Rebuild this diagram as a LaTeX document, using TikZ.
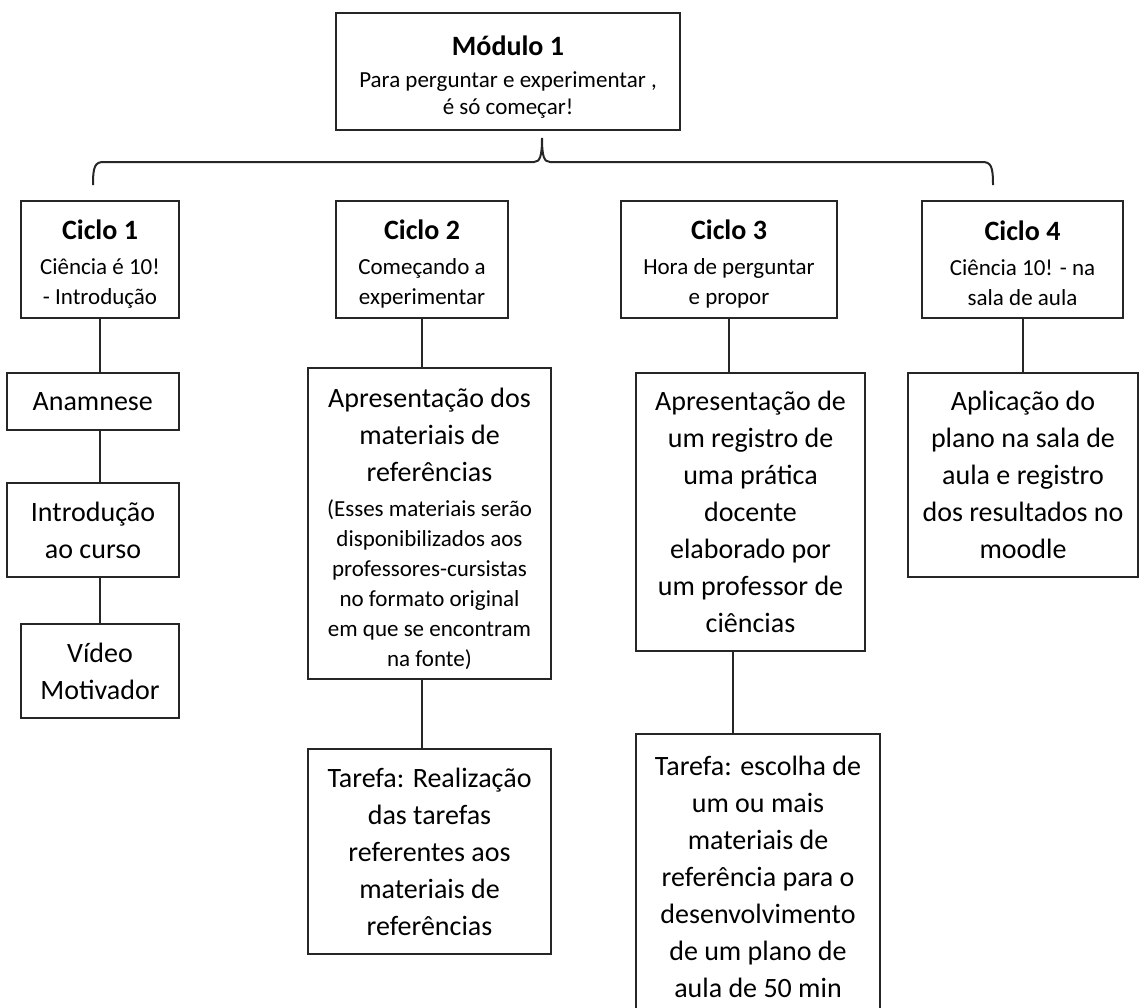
\documentclass[tikz,border=0pt]{standalone}
\usepackage{fontspec}
\setmainfont{Carlito}
\usetikzlibrary{calc}
\definecolor{boxline}{HTML}{262626}
\newcommand{\titlefont}{\bfseries\fontsize{14}{17}\selectfont}
\newcommand{\subfont}{\fontsize{11.5}{15}\selectfont}
\newcommand{\bodyfont}{\fontsize{14}{18.5}\selectfont}

\begin{document}
\begin{tikzpicture}[x=0.5pt, y=-0.5pt,
  box/.style={draw=boxline, line width=1pt, inner sep=0pt, align=center},
  cicbox/.style={box, minimum height=58.5pt, font=\subfont},
  bodybox/.style={box, font=\bodyfont},
  link/.style={draw=boxline, line width=1pt}]
  \useasboundingbox (0,0) rectangle (1140,1007);

  % top module
  \node[box, minimum width=172pt, minimum height=58.5pt,
        font=\fontsize{11.5}{13.5}\selectfont] (mod) at (508,71.5)
    {\rule{0pt}{15pt}{\titlefont Módulo 1}\\[2.5pt]Para perguntar e experimentar ,\\é só começar!};

  % brace under the module
  \coordinate (bl) at (93,185);
  \coordinate (br) at (993,185);
  \coordinate (bt) at (542,138);
  \draw[link] (bl) .. controls (93,166) and (95,162) .. (104,162) -- (534,162)
    .. controls (540,162) and (542,156) .. (bt)
    .. controls (542,156) and (544,162) .. (550,162) -- (982,162)
    .. controls (991,162) and (993,166) .. (br);

  % cycles
  \node[cicbox, minimum width=79pt] (c1) at (100,259.5)
    {\rule{0pt}{14pt}{\titlefont Ciclo 1}\\[2.5pt]Ciência é 10!\\- Introdução};
  \node[cicbox, minimum width=86pt] (c2) at (422,259.5)
    {\rule{0pt}{14pt}{\titlefont Ciclo 2}\\[2.5pt]Começando a\\experimentar};
  \node[cicbox, minimum width=108pt] (c3) at (729,259.5)
    {\rule{0pt}{14pt}{\titlefont Ciclo 3}\\[2.5pt]Hora de perguntar\\e propor};
  \node[cicbox, minimum width=100.5pt] (c4) at (1022.5,259.5)
    {\rule{0pt}{14pt}{\titlefont Ciclo 4}\\[2.5pt]Ciência 10! - na\\sala de aula};

  % ciclo 1 column
  \node[bodybox, minimum width=86.25pt, minimum height=28.5pt] (anam) at (92.75,401.5) {Anamnese};
  \node[bodybox, minimum width=86pt, minimum height=47pt] (intro) at (93,530) {Introdução\\ao curso};
  \node[bodybox, minimum width=79pt, minimum height=47pt] (video) at (100,671) {Vídeo\\Motivador};

  % ciclo 2 column
  \node[bodybox, minimum width=121.5pt, minimum height=155.5pt] (a2) at (429.5,523.5)
    {\rule{0pt}{15pt}Apresentação dos\\materiais de\\referências\\[-1pt]
     {\subfont (Esses materiais serão}\\[-3.5pt]
     {\subfont disponibilizados aos}\\[-3.5pt]
     {\subfont professores-cursistas}\\[-3.5pt]
     {\subfont no formato original}\\[-3.5pt]
     {\subfont em que se encontram}\\[-3.5pt]
     {\subfont na fonte)}};
  \node[bodybox, minimum width=121.5pt, minimum height=102.5pt] (t2) at (429.5,851.5)
    {Tarefa: Realização\\das tarefas\\referentes aos\\materiais de\\referências};

  % ciclo 3 column
  \node[bodybox, minimum width=114.5pt, minimum height=139pt] (a3) at (750.5,512)
    {Apresentação de\\um registro de\\uma prática\\docente\\elaborado por\\um professor de\\ciências};
  \node[bodybox, minimum width=122pt, minimum height=143pt] (t3) at (758,877)
    {Tarefa: escolha de\\um ou mais\\materiais de\\referência para o\\desenvolvimento\\de um plano de\\aula de 50 min};

  % ciclo 4 column
  \node[bodybox, minimum width=115pt, minimum height=102pt] (a4) at (1023,475)
    {Aplicação do\\plano na sala de\\aula e registro\\dos resultados no\\moodle};

  % connectors
  \draw[link] (c1.south) -- (c1.south |- anam.north);
  \draw[link] (anam.south -| c1.south) -- (intro.north -| c1.south);
  \draw[link] (intro.south -| video.north) -- (video.north);
  \draw[link] (c2.south) -- (c2.south |- a2.north);
  \draw[link] (a2.south -| c2.south) -- (t2.north -| c2.south);
  \draw[link] (c3.south) -- (c3.south |- a3.north);
  \draw[link] ([xshift=2pt]a3.south -| c3.south) -- ([xshift=2pt]t3.north -| c3.south);
  \draw[link] (c4.south) -- (c4.south |- a4.north);
\end{tikzpicture}
\end{document}
